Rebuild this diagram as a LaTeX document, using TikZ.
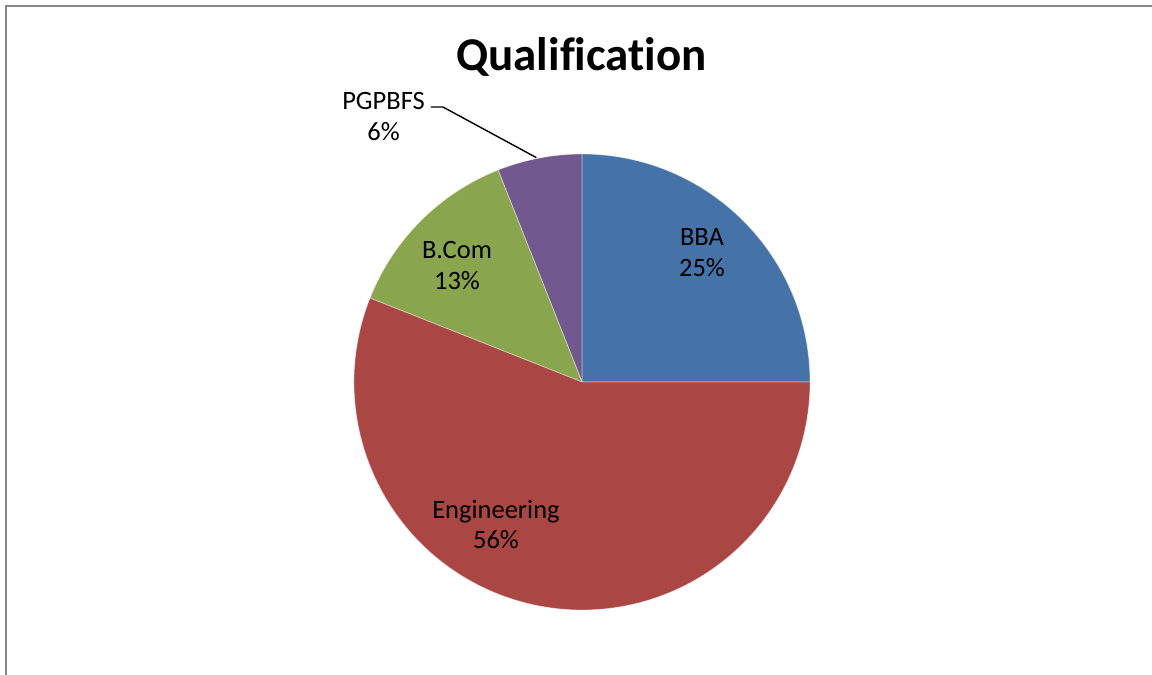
\documentclass[tikz,border=0pt]{standalone}
\usepackage{fontspec}
\setmainfont[Ligatures=NoCommon]{Carlito}
\usetikzlibrary{calc}
\definecolor{cbba}{HTML}{4572A7}
\definecolor{ceng}{HTML}{AA4643}
\definecolor{cbcom}{HTML}{89A54E}
\definecolor{cpg}{HTML}{71588F}
\definecolor{frame}{HTML}{878787}
\tikzset{
  lbl/.style={inner sep=0pt, anchor=base, font=\fontsize{26.5}{30}\selectfont, text=black},
  slice/.style={draw=white, draw opacity=0.45, line width=0.8pt},
  leader/.style={draw=black, line width=1.4pt},
}
\begin{document}
\begin{tikzpicture}[x=1pt,y=-1pt]
\useasboundingbox (0,0) rectangle (1152,675);
\clip (0,0) rectangle (1152,675);
\fill[white] (0,0) rectangle (1152,675);
\draw[frame, line width=2.2pt] (6,680) -- (6,6) -- (1160,6);
\node[inner sep=0pt, anchor=base, font=\fontsize{47}{50}\bfseries\selectfont] (title) at (581.5,70.5) {Qualif\kern0pt ication};
\begin{scope}[shift={(582,382)}, y=1pt]
  \fill[cbba, slice] (0,0) -- (0:228pt) arc[start angle=0, end angle=90, radius=228pt] -- cycle;
  \fill[cpg, slice] (0,0) -- (90:228pt) arc[start angle=90, end angle=111.6, radius=228pt] -- cycle;
  \fill[cbcom, slice] (0,0) -- (111.6:228pt) arc[start angle=111.6, end angle=158.4, radius=228pt] -- cycle;
  \fill[ceng, slice] (0,0) -- (158.4:228pt) arc[start angle=158.4, end angle=360, radius=228pt] -- cycle;
  \coordinate (pgtip) at (101.5:229pt);
\end{scope}
\node[lbl] (bba) at (702,245) {BBA};
\node[lbl] (bbap) at (702,276) {25\%};
\node[lbl] (bcom) at (457,258) {B.Com};
\node[lbl] (bcomp) at (457,289) {13\%};
\node[lbl] (eng) at (496,518) {Engineering};
\node[lbl] (engp) at (496,548) {56\%};
\node[lbl] (pg) at (383.5,109) {PGPBFS};
\node[lbl] (pgp) at (383.5,140) {6\%};
\draw[leader] ($(pg.base east)+(6,-2)$) coordinate (pgl) -- ++(12,0) -- (pgtip);
\end{tikzpicture}
\end{document}
